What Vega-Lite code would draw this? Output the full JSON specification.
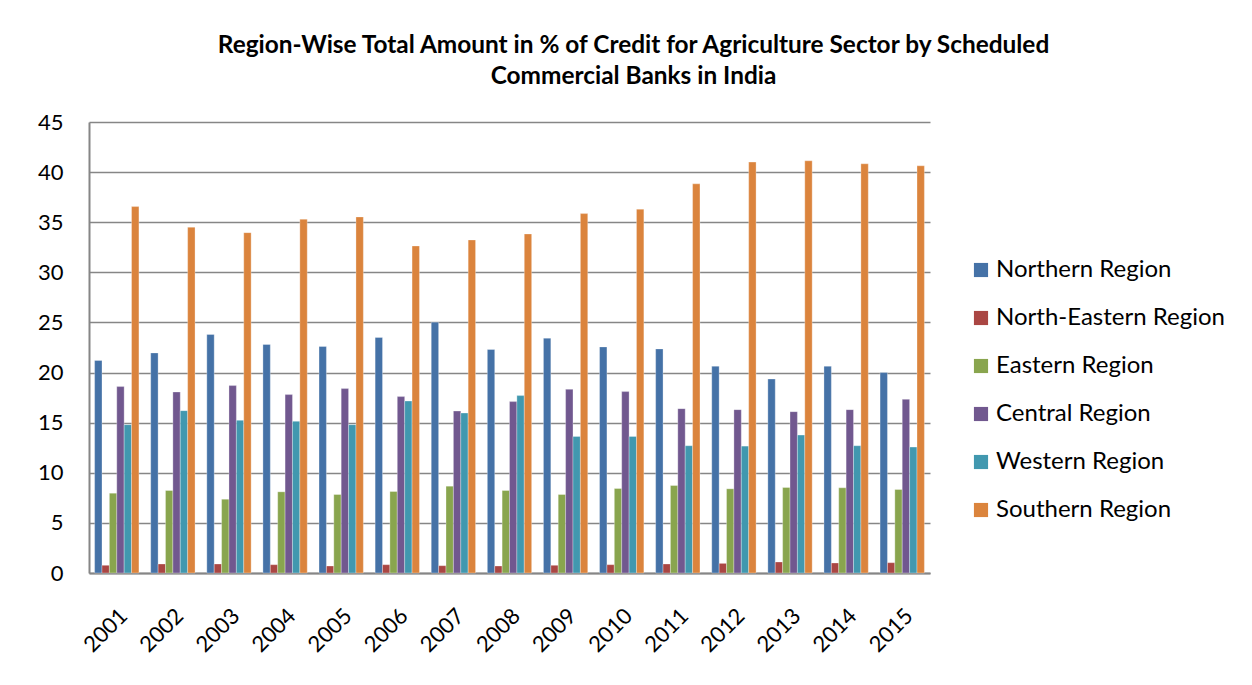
{
  "$schema": "https://vega.github.io/schema/vega-lite/v6.json",
  "width": 841,
  "height": 451,
  "autosize": {"type": "none"},
  "padding": {"left": 89, "top": 122, "right": 322, "bottom": 112},
  "background": "white",
  "title": {
    "text": ["Region-Wise Total Amount in % of Credit for Agriculture Sector by Scheduled", "Commercial Banks in India"],
    "font": "Lato",
    "fontSize": 24.4,
    "fontWeight": "bold",
    "color": "#000000",
    "lineHeight": 31,
    "anchor": "middle",
    "dx": 124,
    "offset": 22,
    "limit": 1200
  },
  "data": {
    "values": [
      {"year": "2001", "region": "Northern Region", "value": 21.2},
      {"year": "2001", "region": "North-Eastern Region", "value": 0.77},
      {"year": "2001", "region": "Eastern Region", "value": 7.96},
      {"year": "2001", "region": "Central Region", "value": 18.6},
      {"year": "2001", "region": "Western Region", "value": 14.8},
      {"year": "2001", "region": "Southern Region", "value": 36.56},
      {"year": "2002", "region": "Northern Region", "value": 21.96},
      {"year": "2002", "region": "North-Eastern Region", "value": 0.9},
      {"year": "2002", "region": "Eastern Region", "value": 8.23},
      {"year": "2002", "region": "Central Region", "value": 18.06},
      {"year": "2002", "region": "Western Region", "value": 16.2},
      {"year": "2002", "region": "Southern Region", "value": 34.5},
      {"year": "2003", "region": "Northern Region", "value": 23.8},
      {"year": "2003", "region": "North-Eastern Region", "value": 0.9},
      {"year": "2003", "region": "Eastern Region", "value": 7.36},
      {"year": "2003", "region": "Central Region", "value": 18.7},
      {"year": "2003", "region": "Western Region", "value": 15.23},
      {"year": "2003", "region": "Southern Region", "value": 33.96},
      {"year": "2004", "region": "Northern Region", "value": 22.8},
      {"year": "2004", "region": "North-Eastern Region", "value": 0.83},
      {"year": "2004", "region": "Eastern Region", "value": 8.1},
      {"year": "2004", "region": "Central Region", "value": 17.8},
      {"year": "2004", "region": "Western Region", "value": 15.13},
      {"year": "2004", "region": "Southern Region", "value": 35.3},
      {"year": "2005", "region": "Northern Region", "value": 22.6},
      {"year": "2005", "region": "North-Eastern Region", "value": 0.7},
      {"year": "2005", "region": "Eastern Region", "value": 7.83},
      {"year": "2005", "region": "Central Region", "value": 18.4},
      {"year": "2005", "region": "Western Region", "value": 14.8},
      {"year": "2005", "region": "Southern Region", "value": 35.53},
      {"year": "2006", "region": "Northern Region", "value": 23.5},
      {"year": "2006", "region": "North-Eastern Region", "value": 0.83},
      {"year": "2006", "region": "Eastern Region", "value": 8.13},
      {"year": "2006", "region": "Central Region", "value": 17.6},
      {"year": "2006", "region": "Western Region", "value": 17.16},
      {"year": "2006", "region": "Southern Region", "value": 32.63},
      {"year": "2007", "region": "Northern Region", "value": 25.03},
      {"year": "2007", "region": "North-Eastern Region", "value": 0.73},
      {"year": "2007", "region": "Eastern Region", "value": 8.66},
      {"year": "2007", "region": "Central Region", "value": 16.16},
      {"year": "2007", "region": "Western Region", "value": 15.96},
      {"year": "2007", "region": "Southern Region", "value": 33.23},
      {"year": "2008", "region": "Northern Region", "value": 22.3},
      {"year": "2008", "region": "North-Eastern Region", "value": 0.7},
      {"year": "2008", "region": "Eastern Region", "value": 8.23},
      {"year": "2008", "region": "Central Region", "value": 17.1},
      {"year": "2008", "region": "Western Region", "value": 17.7},
      {"year": "2008", "region": "Southern Region", "value": 33.83},
      {"year": "2009", "region": "Northern Region", "value": 23.43},
      {"year": "2009", "region": "North-Eastern Region", "value": 0.77},
      {"year": "2009", "region": "Eastern Region", "value": 7.83},
      {"year": "2009", "region": "Central Region", "value": 18.33},
      {"year": "2009", "region": "Western Region", "value": 13.63},
      {"year": "2009", "region": "Southern Region", "value": 35.86},
      {"year": "2010", "region": "Northern Region", "value": 22.56},
      {"year": "2010", "region": "North-Eastern Region", "value": 0.83},
      {"year": "2010", "region": "Eastern Region", "value": 8.43},
      {"year": "2010", "region": "Central Region", "value": 18.1},
      {"year": "2010", "region": "Western Region", "value": 13.63},
      {"year": "2010", "region": "Southern Region", "value": 36.3},
      {"year": "2011", "region": "Northern Region", "value": 22.36},
      {"year": "2011", "region": "North-Eastern Region", "value": 0.9},
      {"year": "2011", "region": "Eastern Region", "value": 8.73},
      {"year": "2011", "region": "Central Region", "value": 16.4},
      {"year": "2011", "region": "Western Region", "value": 12.7},
      {"year": "2011", "region": "Southern Region", "value": 38.83},
      {"year": "2012", "region": "Northern Region", "value": 20.63},
      {"year": "2012", "region": "North-Eastern Region", "value": 0.96},
      {"year": "2012", "region": "Eastern Region", "value": 8.4},
      {"year": "2012", "region": "Central Region", "value": 16.3},
      {"year": "2012", "region": "Western Region", "value": 12.66},
      {"year": "2012", "region": "Southern Region", "value": 41.0},
      {"year": "2013", "region": "Northern Region", "value": 19.36},
      {"year": "2013", "region": "North-Eastern Region", "value": 1.1},
      {"year": "2013", "region": "Eastern Region", "value": 8.53},
      {"year": "2013", "region": "Central Region", "value": 16.1},
      {"year": "2013", "region": "Western Region", "value": 13.76},
      {"year": "2013", "region": "Southern Region", "value": 41.13},
      {"year": "2014", "region": "Northern Region", "value": 20.63},
      {"year": "2014", "region": "North-Eastern Region", "value": 1.0},
      {"year": "2014", "region": "Eastern Region", "value": 8.5},
      {"year": "2014", "region": "Central Region", "value": 16.3},
      {"year": "2014", "region": "Western Region", "value": 12.7},
      {"year": "2014", "region": "Southern Region", "value": 40.83},
      {"year": "2015", "region": "Northern Region", "value": 20.0},
      {"year": "2015", "region": "North-Eastern Region", "value": 1.03},
      {"year": "2015", "region": "Eastern Region", "value": 8.33},
      {"year": "2015", "region": "Central Region", "value": 17.33},
      {"year": "2015", "region": "Western Region", "value": 12.56},
      {"year": "2015", "region": "Southern Region", "value": 40.63}
    ]
  },
  "mark": {"type": "bar", "stroke": "#ffffff", "strokeOpacity": 0.5, "strokeWidth": 0.6},
  "encoding": {
    "x": {
      "field": "year",
      "type": "nominal",
      "scale": {"paddingInner": 0.21, "paddingOuter": 0.1},
      "axis": {
        "title": null,
        "labelAngle": -45,
        "labelFont": "Lato",
        "labelFontSize": 22,
        "labelColor": "#000000",
        "labelPadding": 32,
        "labelDy": -2,
        "ticks": false,
        "domainColor": "#868686",
        "domainWidth": 2
      }
    },
    "xOffset": {
      "field": "region",
      "type": "nominal",
      "sort": ["Northern Region", "North-Eastern Region", "Eastern Region", "Central Region", "Western Region", "Southern Region"],
      "scale": {"paddingInner": 0, "paddingOuter": 0}
    },
    "y": {
      "field": "value",
      "type": "quantitative",
      "scale": {"domain": [0, 45], "nice": false},
      "axis": {
        "title": null,
        "values": [0, 5, 10, 15, 20, 25, 30, 35, 40, 45],
        "labelFont": "Lato",
        "labelFontSize": 22,
        "labelColor": "#000000",
        "labelPadding": 26,
        "ticks": false,
        "grid": true,
        "gridColor": "#868686",
        "gridWidth": 1.5,
        "domainColor": "#868686",
        "domainWidth": 2
      }
    },
    "color": {
      "field": "region",
      "type": "nominal",
      "sort": ["Northern Region", "North-Eastern Region", "Eastern Region", "Central Region", "Western Region", "Southern Region"],
      "scale": {
        "domain": ["Northern Region", "North-Eastern Region", "Eastern Region", "Central Region", "Western Region", "Southern Region"],
        "range": ["#4572A7", "#AA4643", "#89A54E", "#71588F", "#4198AF", "#DB843D"]
      },
      "legend": {
        "title": null,
        "orient": "none",
        "legendX": 880,
        "legendY": 136,
        "symbolType": "square",
        "symbolSize": 200,
        "symbolStrokeWidth": 0,
        "symbolOpacity": 1,
        "labelFont": "Lato",
        "labelFontSize": 24,
        "labelColor": "#000000",
        "labelOffset": 3,
        "labelLimit": 400,
        "rowPadding": 24
      }
    }
  },
  "config": {
    "view": {"stroke": null}
  }
}
